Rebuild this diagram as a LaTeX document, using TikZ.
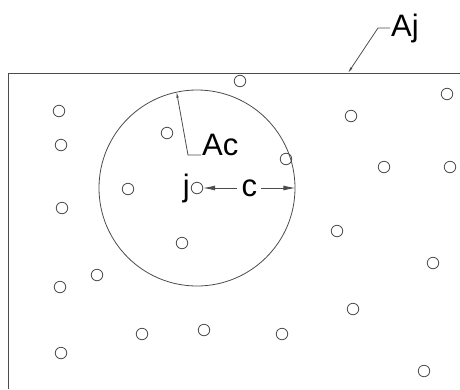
\documentclass[tikz,border=0pt]{standalone}
\usepackage{fontspec}
\setmainfont{Liberation Sans}
\usetikzlibrary{arrows.meta,calc,positioning}
\definecolor{linegray}{rgb}{0.3,0.3,0.3}

\begin{document}
\begin{tikzpicture}[x=1pt, y=-1pt,
    hole/.style={circle, draw=linegray, line width=0.8pt, minimum size=11.5pt, inner sep=0pt},
    lbl/.style={font=\fontsize{31}{36}\selectfont, inner sep=1pt},
    dim/.style={draw=linegray, line width=0.8pt, -{Latex[length=12pt,width=5pt]}},
    lead/.style={draw=linegray, line width=0.8pt, -{Latex[length=6pt,width=2.5pt]}}]
  \useasboundingbox (0,0) rectangle (460,389);
  % Draw the plate edges (top and left)
  \draw[linegray, line width=0.9pt] (8,389) -- (8,73) -- (460,73);
  % Draw the contributing circle around hole j
  \node[circle, draw=linegray, line width=0.8pt, minimum size=196pt, inner sep=0pt] (area) at (197,188) {};
  \node[hole] (j0) at (197,188) {};
  % Draw the other holes
  \foreach \i/\x/\y in {1/240/81, 2/447/94, 3/351/116, 4/59/111, 5/61/145, 6/167/133,
      7/286/159, 8/384/167, 9/450/167, 10/128/189, 11/62/208, 12/337/231, 13/182/243,
      14/433/263, 15/97/275, 16/60/287, 17/353/309, 18/204/330, 19/142/334, 20/282/334,
      21/61/353, 22/424/371} {
      \node[hole] (h\i) at (\x,\y) {};
    }
  % Draw the labels and their leaders
  \node[lbl, anchor=base west] (Aj) at (390,36) {Aj};
  \coordinate (ajtip) at (348,73);
  \draw[lead] (Aj.west) -- ++(-12,0) -- (ajtip);
  \node[lbl, anchor=base west] (Ac) at (201,155) {Ac};
  \draw[lead] (Ac.base west) -- ++(-13,0) -- (area.102);
  \node[lbl, left=0pt of j0] (jl) {j};
  % Draw the radius c
  \node[lbl, inner sep=4pt] (cl) at ($(j0.east)!0.5!(area.east)$) {c};
  \draw[dim] (cl) -- (j0.east);
  \draw[dim] (cl) -- (area.east);
\end{tikzpicture}
\end{document}
